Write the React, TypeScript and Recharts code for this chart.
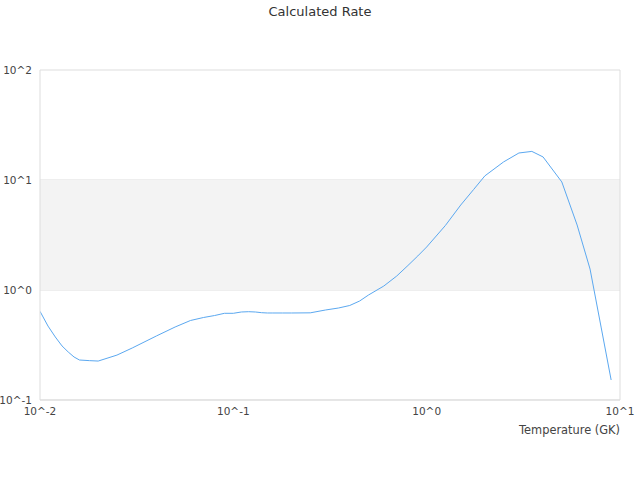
import {
  CartesianGrid,
  Label,
  Line,
  LineChart,
  ReferenceArea,
  ReferenceLine,
  XAxis,
  YAxis,
} from "recharts";

// temperature grid (GK)
const temperatures = [
  0.01, 0.011, 0.012, 0.013, 0.014, 0.015, 0.016, 0.018, 0.02, 0.025, 0.03,
  0.04, 0.05, 0.06, 0.07, 0.08, 0.09, 0.1, 0.11, 0.12, 0.13, 0.14, 0.15, 0.16,
  0.18, 0.2, 0.25, 0.3, 0.35, 0.4, 0.45, 0.5, 0.6, 0.7, 0.8, 0.9, 1.0, 1.25,
  1.5, 1.75, 2, 2.5, 3, 3.5, 4, 5, 6, 7, 8, 9,
];

const rates = [
  0.64, 0.47, 0.374, 0.31, 0.273, 0.246, 0.231, 0.228, 0.226, 0.256, 0.297,
  0.382, 0.461, 0.528, 0.562, 0.586, 0.614, 0.614, 0.631, 0.635, 0.631, 0.622,
  0.618, 0.618, 0.618, 0.618, 0.62, 0.658, 0.686, 0.723, 0.794, 0.9, 1.086,
  1.34, 1.67, 2.04, 2.46, 3.86, 5.92, 8.2, 10.9, 14.6, 17.6, 18.2, 16.2, 9.6,
  3.9, 1.55, 0.452, 0.152,
];

const xTicks = [0.01, 0.1, 1, 10];
const yTicks = [0.1, 1, 10, 100];

const data = temperatures.map((t, i) => ({ t, rate: rates[i] }));

const powLabel = (v: number) => `10^${Math.round(Math.log10(v))}`;

const tickStyle = { fontSize: 10.5, fill: "#444", fontFamily: "DejaVu Sans" };
const gridColor = "#dddddd";

export default function App() {
  return (
    <div
      style={{
        position: "fixed",
        left: 0,
        top: 0,
        width: 640,
        height: 480,
        background: "#fff",
        fontFamily: "DejaVu Sans",
      }}
    >
      <div
        style={{
          position: "absolute",
          top: 4,
          left: 0,
          width: 640,
          textAlign: "center",
          fontSize: 13,
          lineHeight: "15px",
          color: "#333",
        }}
      >
        Calculated Rate
      </div>
      <LineChart
        width={640}
        height={480}
        data={data}
        margin={{ top: 70, right: 20, bottom: 46, left: 0 }}
      >
        <ReferenceArea y1={1} y2={10} fill="#f3f3f3" fillOpacity={1} stroke="none" />
        <CartesianGrid vertical={false} stroke={gridColor} />
        <ReferenceLine x={10} stroke={gridColor} />
        <XAxis
          dataKey="t"
          type="number"
          scale="log"
          domain={[0.01, 10]}
          ticks={xTicks}
          tickFormatter={powLabel}
          tickLine={false}
          axisLine={{ stroke: gridColor }}
          tick={tickStyle}
          height={34}
          allowDataOverflow
        >
          <Label
            value="Temperature (GK)"
            position="insideBottomRight"
            offset={0}
            style={{ fontSize: 11.4, fontFamily: "DejaVu Sans", fill: "#444" }}
          />
        </XAxis>
        <YAxis
          type="number"
          scale="log"
          domain={[0.1, 100]}
          ticks={yTicks}
          tickFormatter={powLabel}
          tickLine={false}
          axisLine={{ stroke: gridColor }}
          tick={tickStyle}
          width={40}
          allowDataOverflow
        />
        <Line
          type="linear"
          dataKey="rate"
          stroke="#5ba8f0"
          strokeWidth={1}
          dot={false}
          isAnimationActive={false}
        />
      </LineChart>
    </div>
  );
}
